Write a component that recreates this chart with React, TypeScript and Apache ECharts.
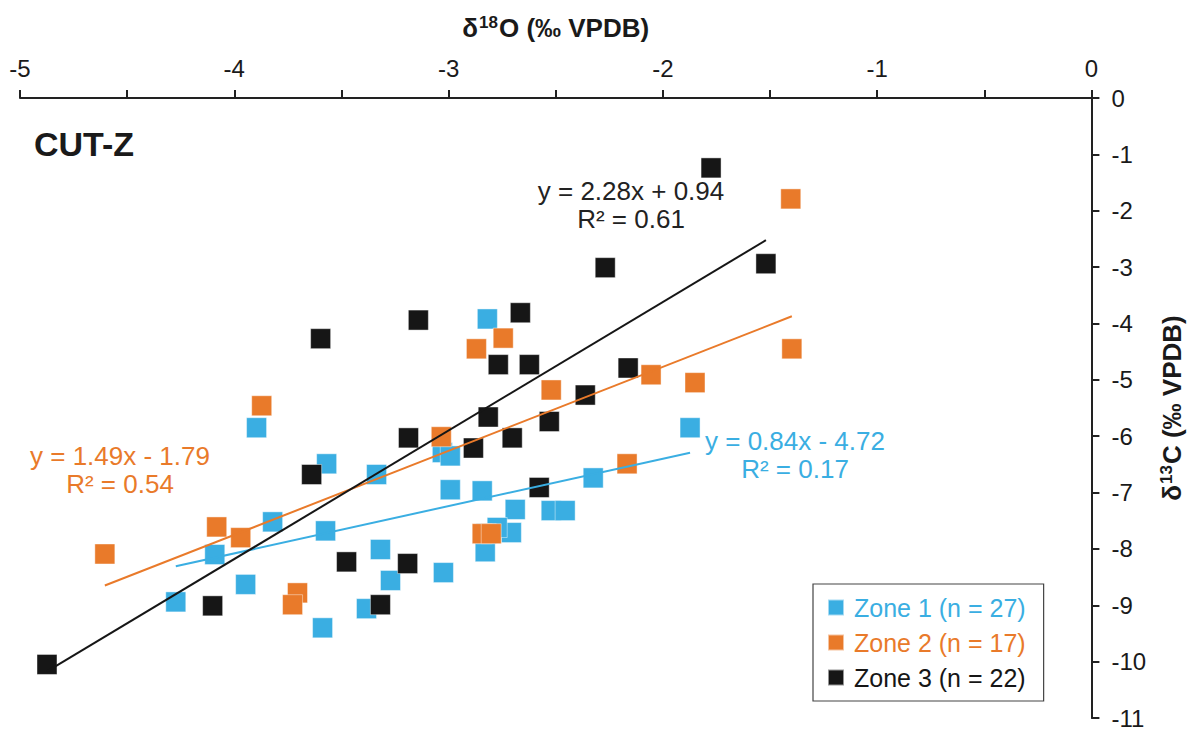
import React, { useEffect, useRef } from "react";
import * as echarts from "echarts";

// ---- Data ----
const zoneNames = ["Zone 1 (n = 27)", "Zone 2 (n = 17)", "Zone 3 (n = 22)"];
const zoneColors = ["#3AAEE2", "#E97A2A", "#161616"];

const zone1X = [-3.896, -3.569, -3.336, -3.821, -3.574, -4.091, -3.318, -3.271, -3.947, -4.273, -3.383, -3.588, -2.819, -1.873, -2.325, -2.992, -2.843, -2.689, -2.521, -2.456, -2.707, -2.773, -2.829, -3.024, -3.029, -2.992, -2.824];
const zone1Y = [-5.85, -6.49, -6.68, -7.52, -7.68, -8.10, -8.01, -8.56, -8.63, -8.94, -9.06, -9.40, -3.92, -5.85, -6.74, -6.95, -6.97, -7.30, -7.32, -7.32, -7.71, -7.62, -8.05, -8.42, -6.29, -6.35, -7.73];

const zone2X = [-3.872, -4.082, -3.970, -4.604, -3.705, -3.728, -2.745, -2.870, -2.521, -2.055, -1.850, -3.034, -2.167, -2.843, -2.801, -1.403, -1.398];
const zone2Y = [-5.46, -7.61, -7.80, -8.09, -8.78, -8.99, -4.26, -4.45, -5.18, -4.91, -5.05, -6.01, -6.49, -7.73, -7.73, -1.79, -4.45];

const zone3X = [-4.874, -1.775, -2.269, -1.519, -3.141, -2.665, -3.597, -2.768, -2.623, -2.162, -2.362, -2.815, -2.530, -3.187, -2.703, -2.884, -3.639, -2.577, -3.476, -3.191, -4.101, -3.318];
const zone3Y = [-10.05, -1.24, -3.01, -2.94, -3.94, -3.81, -4.27, -4.73, -4.73, -4.79, -5.27, -5.66, -5.74, -6.03, -6.03, -6.21, -6.68, -6.91, -8.23, -8.26, -9.01, -8.99];

const fitSlopes = [0.84, 1.49, 2.28];
const fitIntercepts = [-4.72, -1.79, 0.94];
const fitR2 = [0.17, 0.54, 0.61];

const xTickLabels = [-5, -4, -3, -2, -1, 0];
const yTickLabels = [0, -1, -2, -3, -4, -5, -6, -7, -8, -9, -10, -11];

const FONT = "'Liberation Sans', Arial, Helvetica, sans-serif";
const INK = "#1a1a1a";

function pairs(xs: number[], ys: number[]) {
  return xs.map((x, i) => [x, ys[i]]);
}

function fitLine(xs: number[], k: number) {
  const lo = Math.min(...xs);
  const hi = Math.max(...xs);
  return [
    [lo, fitSlopes[k] * lo + fitIntercepts[k]],
    [hi, fitSlopes[k] * hi + fitIntercepts[k]],
  ];
}

function eqText(k: number) {
  const b = fitIntercepts[k];
  const sign = b < 0 ? "-" : "+";
  return `y = ${fitSlopes[k].toFixed(2)}x ${sign} ${Math.abs(b).toFixed(2)}`;
}

const titleRich = {
  n: { fontSize: 26, fontWeight: "bold", color: INK, fontFamily: FONT, lineHeight: 30, verticalAlign: "middle" },
  s: { fontSize: 17, fontWeight: "bold", color: INK, fontFamily: FONT, lineHeight: 30, verticalAlign: "top", padding: [1, 1, 0, 1] },
};

export default function App() {
  const ref = useRef<HTMLDivElement>(null);

  useEffect(() => {
    if (!ref.current) return;
    const chart = echarts.init(ref.current, undefined, { renderer: "svg" });
    const xs = [zone1X, zone2X, zone3X];
    const ys = [zone1Y, zone2Y, zone3Y];

    const scatterSeries = xs.map((x, k) => ({
      type: "scatter",
      name: zoneNames[k],
      data: pairs(x, ys[k]),
      symbol: "rect",
      symbolSize: 20,
      z: 2 + k,
      itemStyle: {
        color: zoneColors[k],
        opacity: 1,
        borderColor: "rgba(255,255,255,0.55)",
        borderWidth: 0.8,
      },
    }));

    const lineSeries = xs.map((x, k) => ({
      type: "line",
      name: "fit" + k,
      data: fitLine(x, k),
      symbol: "none",
      z: 6 + k,
      lineStyle: { color: zoneColors[k], width: 2 },
      silent: true,
    }));

    const eqPos = [
      { x: 795, y: 455 },
      { x: 120, y: 470 },
      { x: 631, y: 205 },
    ];

    const eqGraphics: any[] = [];
    for (let k = 0; k < 3; k++) {
      eqGraphics.push({
        type: "text",
        x: eqPos[k].x,
        y: eqPos[k].y,
        style: {
          text: eqText(k) + "\nR² = " + fitR2[k].toFixed(2),
          fill: k === 2 ? "#222" : zoneColors[k],
          font: `26px ${FONT}`,
          align: "center",
          verticalAlign: "middle",
          lineHeight: 28,
        },
        z: 20,
      });
    }

    chart.setOption({
      animation: false,
      backgroundColor: "#fff",
      textStyle: { fontFamily: FONT },
      grid: { left: 20, right: 100, top: 98, bottom: 12, containLabel: false },
      xAxis: {
        type: "value",
        position: "top",
        min: -5,
        max: 0,
        interval: 1,
        name: "{n|δ}{s|18}{n|O (‰ VPDB)}",
        nameLocation: "middle",
        nameGap: 55,
        nameTextStyle: { fontSize: 26, fontWeight: "bold", color: INK, fontFamily: FONT, rich: titleRich },
        axisLine: { show: true, onZero: false, lineStyle: { color: "#222", width: 2 } },
        axisTick: { show: true, length: 8, lineStyle: { color: "#222", width: 2 } },
        minorTick: { show: true, splitNumber: 2, length: 8, lineStyle: { color: "#222", width: 2 } },
        splitLine: { show: false },
        axisLabel: {
          fontSize: 24,
          color: INK,
          margin: 18,
          fontFamily: FONT,
          formatter: (v: number) => (xTickLabels.includes(v) ? String(v) : ""),
        },
      },
      yAxis: {
        type: "value",
        position: "right",
        min: -11,
        max: 0,
        interval: 1,
        name: "{n|δ}{s|13}{n|C (‰ VPDB)}",
        nameLocation: "middle",
        nameRotate: 90,
        nameGap: 56,
        nameTextStyle: { fontSize: 26, fontWeight: "bold", color: INK, fontFamily: FONT, rich: titleRich },
        axisLine: { show: true, onZero: false, lineStyle: { color: "#222", width: 2 } },
        axisTick: { show: true, length: 8, lineStyle: { color: "#222", width: 2 } },
        splitLine: { show: false },
        axisLabel: {
          fontSize: 24,
          color: INK,
          margin: 20,
          fontFamily: FONT,
          formatter: (v: number) => (yTickLabels.includes(v) ? String(v) : ""),
        },
      },
      legend: {
        data: zoneNames.map((n, k) => ({ name: n, textStyle: { color: zoneColors[k] } })),
        orient: "vertical",
        left: 813,
        top: 584,
        itemWidth: 16,
        itemHeight: 16,
        itemGap: 10,
        icon: "rect",
        selectedMode: false,
        borderColor: "#444",
        borderWidth: 1.2,
        padding: [11, 18, 11, 14],
        textStyle: { fontSize: 25, fontFamily: FONT, padding: [0, 0, 0, 5] },
      },
      graphic: [
        {
          type: "text",
          left: 34,
          top: 127,
          style: {
            text: "CUT-Z",
            fill: INK,
            font: `bold 34px ${FONT}`,
          },
        },
        ...eqGraphics,
      ],
      series: [...scatterSeries, ...lineSeries],
    });

    return () => chart.dispose();
  }, []);

  return (
    <div
      ref={ref}
      style={{ position: "absolute", left: 0, top: 0, width: 1193, height: 730, background: "#fff" }}
    />
  );
}
